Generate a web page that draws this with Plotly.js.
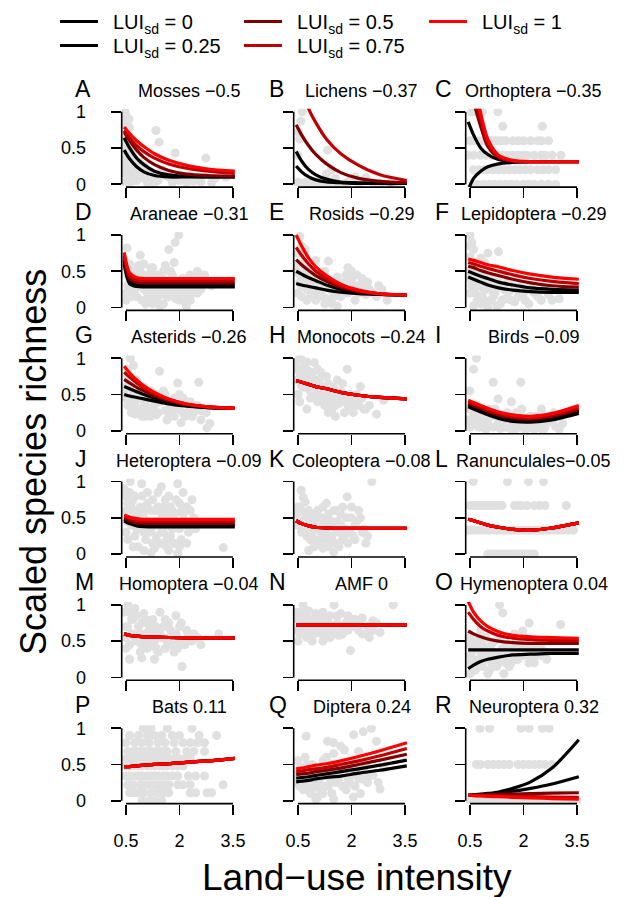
<!DOCTYPE html>
<html><head><meta charset="utf-8">
<script src="https://cdn.plot.ly/plotly-3.0.1.min.js"></script>
<style>html,body{margin:0;padding:0;background:#fff}#chart{width:624px;height:897px}</style>
</head><body><div id="chart"></div>
<script>
// ---------- data ----------
const fitX = [0.45, 0.6, 0.8, 1.0, 1.3, 1.7, 2.2, 2.8, 3.55];
const sdLevels = ['0', '0.25', '0.5', '0.75', '1'];

const groupNames = ['Mosses','Lichens','Orthoptera','Araneae','Rosids','Lepidoptera','Asterids','Monocots','Birds',
  'Heteroptera','Coleoptera','Ranunculales','Homoptera','AMF','Hymenoptera','Bats','Diptera','Neuroptera'];
const groupEffects = [' \u22120.5',' \u22120.37',' \u22120.35',' \u22120.31',' \u22120.29',' \u22120.29',' \u22120.26',' \u22120.24',' \u22120.09',
  ' \u22120.09',' \u22120.08','\u22120.05',' \u22120.04',' 0',' 0.04',' 0.11',' 0.24',' 0.32'];
const panelLetters = ['A','B','C','D','E','F','G','H','I','J','K','L','M','N','O','P','Q','R'];

// Mosses
const mossesX = [0.47,0.5,0.52,0.48,0.55,0.5,0.6,0.47,0.53,0.58,0.5,0.62,0.7,0.48,0.55,0.65,0.75,0.85,0.5,0.6,0.9,1.0,1.1,1.2,1.34,1.43,1.88,2.74,1.5,1.7,2.0,2.3,2.6,3.0,3.3,1.3,0.8,0.95,1.15,2.2,
  0.45,0.48,0.5,0.52,0.55,0.58,0.6,0.62,0.65,0.68,0.7,0.72,0.75,0.8,0.85,0.9,1.0,1.05,1.1,1.25,1.4,1.6,1.8,2.1,2.4,2.9,0.45,0.47,0.5,0.55];
const mossesY = [1.0,0.95,0.88,0.8,0.7,0.62,0.55,0.5,0.42,0.35,0.3,0.25,0.2,0.15,0.12,0.08,0.05,0.1,0.03,0.01,0.15,0.08,0.12,0.05,0.74,0.58,0.43,0.36,0.2,0.1,0.05,0.12,0.03,0.08,0.1,0.02,0.3,0.22,0.18,0.02,
  0.9,0.75,0.65,0.55,0.45,0.9,0.78,0.4,0.3,0.6,0.45,0.35,0.15,0.05,0.2,0.3,0.25,0.15,0.02,0.1,0.05,0.12,0.02,0.08,0.04,0.02,0.25,0.4,0.85,0.2];
const mossesFit = [
  [0.47,0.35,0.24,0.17,0.12,0.10,0.10,0.10,0.10],
  [0.64,0.50,0.36,0.27,0.18,0.13,0.11,0.10,0.10],
  [0.72,0.60,0.47,0.37,0.27,0.19,0.14,0.12,0.11],
  [0.74,0.64,0.53,0.45,0.36,0.28,0.22,0.18,0.15],
  [0.79,0.70,0.60,0.52,0.42,0.33,0.26,0.21,0.18]];

// Lichens
const lichensX = [0.62,0.58,0.52,0.55,0.5,1.33,1.45,1.3,1.55,0.7,0.9,1.1,1.6,1.9,2.1,2.4,2.6,2.8,3.1,0.5,0.6,0.8,1.0,1.2,1.4,1.8,2.2];
const lichensY = [1.0,0.87,0.72,0.62,0.4,0.47,0.2,0.14,0.08,0.02,0.04,0.03,0.01,0.03,0.1,0.09,0.02,0.01,0.02,0.03,0.01,0.01,0.0,0.02,0.0,0.0,0.01];
const lichensFit = [
  [0.25,0.17,0.10,0.06,0.03,0.02,0.01,0.01,0.01],
  [0.45,0.32,0.20,0.13,0.07,0.03,0.02,0.01,0.01],
  [0.82,0.68,0.53,0.41,0.28,0.16,0.08,0.04,0.02],
  [1.50,1.35,1.04,0.85,0.62,0.42,0.26,0.13,0.05],
  [null,null,null,null,null,null,null,null,null]];

// Orthoptera
const orthopteraX = [0.55,0.62,0.85,1.28, 1.42,2.53,
  0.5,0.6,0.75,0.9,1.0,1.1,1.2,1.3,1.4,1.5,1.7,1.85,2.0,2.2,2.4,2.5,2.7,
  0.45,0.6,0.8,0.95,1.1,1.25,1.4,1.55,1.7,1.85,2.0,2.1,2.3,2.5,2.6,2.8,3.05,
  0.6,0.75,0.9,1.0,1.15,1.3,1.45,1.6,1.75,1.9,2.05,2.2,2.4,2.55,2.7,2.9,
  0.6,0.75,0.9,1.05,1.2,1.35,1.5,1.65,1.8,2.0,2.15,2.3,2.5,2.7,2.9];
const orthopteraY = [1,1,1,1, 0.8,0.8,
  0.6,0.6,0.6,0.6,0.6,0.6,0.6,0.6,0.6,0.6,0.6,0.6,0.6,0.6,0.6,0.6,0.6,
  0.4,0.4,0.4,0.4,0.4,0.4,0.4,0.4,0.4,0.4,0.4,0.4,0.4,0.4,0.4,0.4,0.4,
  0.2,0.2,0.2,0.2,0.2,0.2,0.2,0.2,0.2,0.2,0.2,0.2,0.2,0.2,0.2,0.2,
  0,0,0,0,0,0,0,0,0,0,0,0,0,0,0];
const orthopteraFit = [
  [-0.08,0.08,0.18,0.24,0.28,0.30,0.31,0.31,0.31],
  [0.86,0.68,0.50,0.41,0.34,0.315,0.31,0.31,0.31],
  [1.60,1.15,0.80,0.52,0.37,0.32,0.31,0.31,0.31],
  [1.90,1.30,0.88,0.56,0.38,0.32,0.31,0.31,0.31],
  [2.20,1.50,0.98,0.62,0.40,0.33,0.31,0.31,0.31]];

// Araneae
const araneaeX = [0.5,0.55,0.6,0.7,0.8,0.9,1.0,1.1,1.2,1.3,1.4,1.5,1.6,1.7,1.8,1.9,2.0,2.1,2.2,2.3,2.4,2.5,2.6,2.8,0.5,0.65,0.75,0.85,0.95,1.05,1.15,1.25,1.35,1.45,1.55,1.65,1.75,1.85,1.98,1.88,1.7,0.53,0.9,2.3,2.5,1.0,1.2,1.6,2.0,2.2,
  0.45,0.55,0.6,0.65,0.7,0.75,0.8,0.85,0.9,1.0,1.05,1.1,1.15,1.2,1.3,1.35,1.4,1.5,1.55,1.6,1.7,1.75,1.8,1.9,2.0,2.1,2.2,2.35,2.45,2.6,2.7,2.9,0.5,1.25,1.45,2.15];
const araneaeY = [0.55,0.45,0.35,0.5,0.4,0.3,0.25,0.45,0.2,0.35,0.15,0.4,0.25,0.3,0.2,0.12,0.35,0.25,0.18,0.45,0.3,0.2,0.4,0.35,0.2,0.15,0.25,0.58,0.1,0.05,0.15,0.55,0.1,0.22,0.05,0.15,0.5,0.62,1.0,0.9,0.8,0.82,0.72,0.1,0.5,0.6,0.42,0.58,0.1,0.02,
  0.65,0.3,0.6,0.45,0.2,0.4,0.15,0.3,0.5,0.4,0.3,0.2,0.45,0.55,0.25,0.45,0.35,0.2,0.5,0.35,0.15,0.35,0.45,0.3,0.2,0.4,0.3,0.2,0.4,0.25,0.45,0.3,0.1,0.05,0.02,0.08];
const araneaeFit = [
  [0.60,0.33,0.29,0.285,0.285,0.285,0.285,0.285,0.285],
  [0.64,0.36,0.32,0.31,0.31,0.31,0.31,0.31,0.31],
  [0.68,0.40,0.35,0.34,0.34,0.34,0.34,0.34,0.34],
  [0.72,0.44,0.38,0.37,0.37,0.37,0.37,0.37,0.37],
  [0.76,0.48,0.41,0.40,0.40,0.40,0.40,0.40,0.40]];

// Rosids
const rosidsX = [0.55,0.6,0.5,0.7,0.65,0.8,0.9,1.0,1.1,1.2,1.35,1.5,1.6,1.8,1.95,2.05,2.0,2.2,2.3,2.5,2.76,3.0,0.5,0.6,0.75,0.85,1.0,1.15,1.3,1.45,1.7,1.9,2.1,2.4,0.55,0.9,1.25,1.6,
  0.45,0.5,0.55,0.6,0.65,0.7,0.75,0.8,0.85,0.9,0.95,1.05,1.1,1.2,1.25,1.4,1.5,1.55,1.65,1.75,1.85,1.9,2.0,2.05,2.15,2.2,2.35,2.45,2.6,2.7,2.85,0.7,1.0];
const rosidsY = [0.98,0.85,0.75,0.7,0.6,0.55,0.5,0.45,0.4,0.35,0.64,0.3,0.42,0.35,0.48,0.45,0.38,0.3,0.4,0.25,0.3,0.1,0.2,0.3,0.25,0.15,0.1,0.2,0.12,0.05,0.15,0.2,0.1,0.18,0.45,0.3,0.05,0.02,
  0.5,0.6,0.35,0.15,0.4,0.5,0.1,0.35,0.45,0.2,0.3,0.25,0.15,0.3,0.5,0.25,0.15,0.35,0.2,0.25,0.45,0.55,0.5,0.3,0.45,0.2,0.3,0.35,0.2,0.15,0.25,0.8,0.65];
const rosidsFit = [
  [0.33,0.31,0.29,0.27,0.24,0.21,0.19,0.18,0.17],
  [0.50,0.46,0.41,0.37,0.31,0.25,0.21,0.18,0.17],
  [0.66,0.59,0.51,0.44,0.36,0.28,0.22,0.19,0.17],
  [0.83,0.72,0.60,0.50,0.40,0.30,0.23,0.19,0.17],
  [1.00,0.85,0.68,0.56,0.44,0.32,0.24,0.19,0.17]];

// Lepidoptera
const lepidopteraX = [0.5,0.55,0.6,0.5,0.65,0.7,0.8,1.0,1.3,0.55,0.6,0.75,0.9,1.05,1.2,1.4,1.6,1.8,2.0,2.2,2.4,2.7,3.0,0.5,0.7,0.85,1.1,1.35,1.5,1.75,1.95,2.15,0.6,0.8,1.0,1.25,
  0.45,0.5,0.55,0.6,0.65,0.7,0.75,0.8,0.85,0.9,0.95,1.0,1.1,1.15,1.2,1.3,1.4,1.45,1.55,1.65,1.7,1.85,1.9,2.05,2.1,2.3,2.5,2.6,2.8,0.5,0.55,0.9];
const lepidopteraY = [1.0,0.9,0.8,0.7,0.62,0.55,0.68,0.75,0.77,0.45,0.35,0.3,0.25,0.35,0.3,0.28,0.22,0.25,0.2,0.3,0.15,0.18,0.12,0.2,0.1,0.15,0.1,0.05,0.12,0.08,0.15,0.05,0.02,0.05,0.0,0.02,
  0.5,0.4,0.3,0.55,0.2,0.4,0.15,0.5,0.35,0.1,0.45,0.25,0.4,0.15,0.2,0.35,0.1,0.25,0.35,0.1,0.3,0.15,0.3,0.1,0.25,0.2,0.1,0.25,0.1,0.85,0.6,0.62];
const lepidopteraFit = [
  [0.42,0.39,0.35,0.31,0.27,0.24,0.22,0.21,0.21],
  [0.50,0.47,0.43,0.40,0.35,0.31,0.27,0.25,0.24],
  [0.57,0.55,0.51,0.48,0.44,0.39,0.34,0.30,0.28],
  [0.62,0.60,0.57,0.54,0.50,0.45,0.40,0.36,0.33],
  [0.67,0.65,0.62,0.59,0.56,0.51,0.46,0.42,0.39]];

// Asterids
const asteridsX = [0.62,0.71,0.55,0.5,0.8,1.44,1.95,2.54,0.6,0.7,0.85,1.0,1.1,1.2,1.3,1.5,1.6,1.7,1.8,2.0,2.1,2.2,2.3,2.45,2.6,0.76,1.05,1.35,1.65,2.04,2.77,0.9,1.25,1.55,1.85,2.35,2.7,
  0.45,0.5,0.55,0.6,0.65,0.7,0.75,0.8,0.9,0.95,1.0,1.05,1.15,1.2,1.25,1.35,1.4,1.45,1.6,1.7,1.75,1.85,1.9,2.0,2.1,2.15,2.3,2.4,2.5,2.6,2.75,2.85,0.55];
const asteridsY = [1.0,0.9,0.75,0.6,0.7,0.82,0.66,0.67,0.45,0.35,0.5,0.4,0.3,0.55,0.35,0.45,0.28,0.4,0.32,0.5,0.25,0.38,0.3,0.35,0.28,0.23,0.2,0.22,0.15,0.11,0.04,0.3,0.45,0.55,0.2,0.2,0.3,
  0.55,0.45,0.35,0.6,0.25,0.5,0.4,0.3,0.55,0.2,0.6,0.35,0.45,0.2,0.3,0.5,0.25,0.4,0.5,0.25,0.35,0.45,0.3,0.35,0.45,0.2,0.4,0.25,0.35,0.15,0.25,0.1,0.85];
const asteridsFit = [
  [0.50,0.48,0.46,0.44,0.41,0.37,0.34,0.32,0.31],
  [0.61,0.58,0.54,0.50,0.45,0.40,0.35,0.32,0.31],
  [0.71,0.66,0.60,0.55,0.48,0.42,0.36,0.33,0.31],
  [0.81,0.74,0.66,0.59,0.51,0.43,0.37,0.33,0.31],
  [0.89,0.80,0.70,0.62,0.53,0.44,0.37,0.33,0.31]];

// Monocots
const monocotsX = [0.55,0.6,0.7,0.5,0.8,0.96,0.65,0.75,0.9,1.0,1.1,1.2,1.3,1.4,1.5,1.6,1.7,1.88,1.95,2.1,2.25,2.4,2.7,2.9,0.5,0.6,0.85,1.05,1.25,1.45,1.65,1.8,2.0,2.2,1.15,1.35,1.55,
  0.45,0.5,0.55,0.6,0.65,0.7,0.75,0.8,0.85,0.9,0.95,1.0,1.05,1.1,1.15,1.2,1.25,1.3,1.35,1.4,1.45,1.5,1.55,1.6,1.7,1.75,1.8,1.9,2.0,2.05,2.15,2.3,2.35,2.5,0.55,0.75];
const monocotsY = [1.0,0.98,0.9,0.85,0.82,0.94,0.75,0.6,0.7,0.55,0.65,0.5,0.75,0.6,0.45,0.7,0.55,0.85,0.5,0.4,0.61,0.3,0.23,0.42,0.5,0.62,0.45,0.4,0.35,0.3,0.38,0.25,0.3,0.35,0.8,0.25,0.2,
  0.95,0.7,0.8,0.85,0.6,0.75,0.95,0.65,0.55,0.8,0.45,0.7,0.85,0.5,0.6,0.75,0.45,0.55,0.65,0.4,0.5,0.6,0.35,0.5,0.4,0.65,0.45,0.35,0.45,0.25,0.5,0.45,0.3,0.35,0.4,0.3];
const monocotsCurve = [0.69,0.67,0.64,0.61,0.58,0.53,0.49,0.46,0.44];
const monocotsFit = [monocotsCurve, monocotsCurve, monocotsCurve, monocotsCurve, monocotsCurve];

// Birds
const birdsX = [0.68,0.6,0.5,1.15,1.92,1.29,1.66,2.5,3.2,0.5,0.6,0.7,0.8,0.9,1.0,1.1,1.2,1.3,1.4,1.5,1.6,1.7,1.8,1.9,2.0,2.1,2.2,2.3,2.4,2.6,2.8,3.0,0.55,0.75,0.95,1.35,1.75,2.15,2.55,2.9,
  0.45,0.5,0.6,0.65,0.75,0.85,0.95,1.05,1.15,1.25,1.45,1.55,1.65,1.85,1.95,2.05,2.25,2.35,2.45,2.7,2.85,3.1];
const birdsY = [1.0,0.85,0.55,0.67,0.67,0.44,0.4,0.3,0.25,0.3,0.2,0.35,0.15,0.25,0.1,0.2,0.3,0.12,0.22,0.05,0.18,0.1,0.25,0.05,0.15,0.08,0.2,0.02,0.1,0.05,0.12,0.02,0.1,0.05,0.02,0.03,0.01,0.04,0.0,0.06,
  0.15,0.05,0.1,0.25,0.2,0.05,0.15,0.3,0.05,0.2,0.12,0.25,0.02,0.15,0.3,0.02,0.1,0.2,0.05,0.15,0.25,0.1];
const birdsFit = [
  [0.33,0.30,0.26,0.22,0.17,0.13,0.12,0.15,0.24],
  [0.36,0.33,0.29,0.25,0.20,0.16,0.14,0.18,0.27],
  [0.38,0.35,0.31,0.27,0.22,0.18,0.16,0.20,0.29],
  [0.40,0.37,0.33,0.29,0.24,0.20,0.18,0.22,0.32],
  [0.42,0.39,0.35,0.31,0.26,0.22,0.20,0.24,0.35]];

// Heteroptera
const heteropteraX = [0.62,0.94,1.49,1.95,0.5,0.55,0.6,0.7,0.8,0.9,1.0,1.1,1.2,1.3,1.4,1.5,1.6,1.7,1.8,1.9,2.0,2.1,2.2,2.3,2.4,0.5,0.65,0.75,0.85,1.05,1.15,1.25,1.35,1.55,1.65,1.75,1.85,2.05,2.25,3.23,1.95,0.7,1.0,1.3,1.6,2.0,
  0.45,0.5,0.55,0.6,0.65,0.7,0.75,0.8,0.85,0.9,0.95,1.0,1.05,1.1,1.15,1.2,1.25,1.3,1.35,1.4,1.45,1.5,1.55,1.6,1.65,1.7,1.75,1.8,1.85,1.9,2.0,2.05,2.1,2.15,2.2,2.3,2.35,2.45,0.55,0.85,1.2,1.45,1.7,2.2];
const heteropteraY = [1.0,0.97,0.93,0.97,0.8,0.7,0.6,0.75,0.55,0.65,0.5,0.7,0.6,0.45,0.65,0.55,0.75,0.5,0.6,0.45,0.7,0.55,0.4,0.6,0.5,0.3,0.4,0.25,0.35,0.2,0.3,0.15,0.25,0.3,0.2,0.25,0.15,0.2,0.3,0.09,0.01,0.1,0.05,0.08,0.12,0.1,
  0.9,0.6,0.45,0.85,0.65,0.45,0.8,0.35,0.6,0.45,0.8,0.3,0.6,0.85,0.45,0.35,0.75,0.6,0.4,0.85,0.45,0.3,0.65,0.55,0.4,0.8,0.65,0.35,0.55,0.75,0.35,0.6,0.85,0.45,0.65,0.4,0.75,0.35,0.2,0.1,0.02,0.15,0.05,0.15];
const heteropteraFit = [
  [0.46,0.42,0.39,0.38,0.375,0.375,0.375,0.375,0.375],
  [0.48,0.44,0.41,0.40,0.40,0.40,0.40,0.40,0.40],
  [0.50,0.46,0.43,0.425,0.425,0.425,0.425,0.425,0.425],
  [0.52,0.49,0.46,0.455,0.45,0.45,0.45,0.45,0.45],
  [0.54,0.51,0.49,0.48,0.48,0.48,0.48,0.48,0.48]];

// Coleoptera
const coleopteraX = [0.59,0.65,0.55,0.7,0.8,0.9,1.0,1.1,1.2,1.3,1.4,1.5,1.6,1.7,1.8,1.88,2.0,2.1,2.2,2.3,2.57,0.5,0.6,0.75,0.85,0.95,1.05,1.15,1.25,1.35,1.45,1.55,1.65,1.75,1.9,2.05,2.4,1.5,0.8,1.2,
  0.45,0.5,0.55,0.6,0.65,0.7,0.75,0.8,0.85,0.9,0.95,1.0,1.05,1.1,1.15,1.25,1.3,1.35,1.4,1.45,1.55,1.6,1.65,1.7,1.75,1.8,1.85,1.95,2.0,2.1,2.15,2.25,2.35,2.45,1.3,0.95];
const coleopteraY = [0.88,0.78,0.65,0.72,0.6,0.5,0.55,0.45,0.65,0.5,0.4,0.6,0.45,0.55,0.35,0.79,0.5,0.4,0.6,0.3,1.0,0.4,0.3,0.25,0.2,0.35,0.15,0.3,0.2,0.1,0.25,0.15,0.3,0.2,0.15,0.25,0.15,0.03,0.05,0.08,
  0.55,0.65,0.45,0.6,0.35,0.5,0.4,0.3,0.55,0.25,0.45,0.35,0.6,0.2,0.5,0.4,0.3,0.55,0.2,0.45,0.35,0.6,0.1,0.4,0.65,0.25,0.5,0.3,0.65,0.2,0.45,0.5,0.35,0.25,0.7,0.1];
const coleopteraCurve = [0.46,0.42,0.39,0.37,0.36,0.355,0.355,0.355,0.355];
const coleopteraFit = [coleopteraCurve, coleopteraCurve, coleopteraCurve, coleopteraCurve, coleopteraCurve];

// Ranunculales
const ranunculalesX = [0.59,1.55,2.14,2.56,
  0.5,0.6,0.7,0.8,0.9,1.0,1.1,1.2,1.3,1.4,1.75,1.85,1.95,2.1,2.3,2.45,2.6,3.2,
  0.45,0.55,0.65,0.75,0.85,0.95,1.05,1.15,1.25,1.35,1.45,1.55,1.65,1.75,1.85,1.95,2.05,2.15,2.25,2.35,2.45,2.55,2.65,2.75,2.85,2.95,3.1,3.25,3.4,
  1.0,1.1,1.2,1.3,1.4,1.5,1.6,1.7,1.8,1.9,2.0,2.1,2.2,2.3];
const ranunculalesY = [1,1,1,1,
  0.67,0.67,0.67,0.67,0.67,0.67,0.67,0.67,0.67,0.67,0.67,0.67,0.67,0.67,0.67,0.67,0.67,0.67,
  0.33,0.33,0.33,0.33,0.33,0.33,0.33,0.33,0.33,0.33,0.33,0.33,0.33,0.33,0.33,0.33,0.33,0.33,0.33,0.33,0.33,0.33,0.33,0.33,0.33,0.33,0.33,0.33,0.33,
  0,0,0,0,0,0,0,0,0,0,0,0,0,0];
const ranunculalesCurve = [0.48,0.46,0.43,0.40,0.37,0.34,0.33,0.36,0.43];
const ranunculalesFit = [ranunculalesCurve, ranunculalesCurve, ranunculalesCurve, ranunculalesCurve, ranunculalesCurve];

// Homoptera
const homopteraX = [0.55,0.6,0.7,0.8,1.0,1.1,1.2,1.3,1.45,1.6,1.7,1.9,2.0,2.2,2.4,0.5,0.65,0.75,0.85,0.95,1.05,1.15,1.25,1.35,1.5,1.65,1.8,1.95,2.1,2.3,2.6,3.1,0.94,2.07,0.5,0.9,
  0.45,0.5,0.55,0.6,0.65,0.7,0.75,0.8,0.85,0.9,0.95,1.0,1.05,1.1,1.15,1.2,1.25,1.3,1.35,1.4,1.45,1.55,1.6,1.7,1.75,1.85,1.9,2.0,2.05,2.15,2.25,2.35,2.5,0.6,1.3];
const homopteraY = [1.0,0.9,0.8,0.85,0.88,0.75,0.7,0.65,0.9,0.8,0.75,0.85,0.7,0.65,0.6,0.7,0.6,0.55,0.5,0.45,0.6,0.5,0.45,0.4,0.55,0.5,0.45,0.4,0.5,0.55,0.45,0.6,0.27,0.15,0.4,0.35,
  0.9,0.55,0.7,0.45,0.8,0.6,0.95,0.5,0.7,0.6,0.75,0.5,0.8,0.4,0.65,0.55,0.8,0.5,0.7,0.35,0.6,0.7,0.4,0.55,0.65,0.35,0.6,0.5,0.75,0.45,0.6,0.5,0.55,0.25,0.25];
const homopteraCurve = [0.60,0.58,0.57,0.56,0.555,0.55,0.545,0.545,0.545];
const homopteraFit = [homopteraCurve, homopteraCurve, homopteraCurve, homopteraCurve, homopteraCurve];

// AMF
const amfX = [0.64,0.8,1.0,1.2,1.51,1.7,1.9,2.1,2.3,2.6,3.17,0.5,0.6,0.7,0.85,0.95,1.1,1.3,1.45,1.6,1.8,2.0,2.2,2.4,0.55,0.75,0.9,1.15,1.4,1.65,1.97,2.5,2.8,
  0.45,0.5,0.55,0.6,0.65,0.7,0.75,0.8,0.85,0.9,0.95,1.0,1.05,1.1,1.15,1.2,1.25,1.3,1.35,1.4,1.5,1.55,1.6,1.7,1.75,1.85,1.9,2.0,2.1,2.2,2.3,2.45,2.6,2.7,0.5,1.2];
const amfY = [1.0,0.92,0.88,0.9,1.0,0.88,0.85,0.8,0.82,0.78,1.0,0.8,0.7,0.75,0.65,0.8,0.7,0.72,0.65,0.75,0.68,0.7,0.65,0.6,0.6,0.55,0.5,0.6,0.55,0.58,0.37,0.55,0.62,
  0.9,0.65,0.85,0.9,0.6,0.85,0.7,0.65,0.8,0.7,0.6,0.75,0.65,0.85,0.75,0.65,0.8,0.6,0.75,0.85,0.7,0.6,0.85,0.7,0.6,0.75,0.65,0.8,0.7,0.75,0.6,0.7,0.65,0.75,0.5,0.5];
const amfCurve = [0.725,0.725,0.725,0.725,0.725,0.725,0.725,0.725,0.725];
const amfFit = [amfCurve, amfCurve, amfCurve, amfCurve, amfCurve];

// Hymenoptera
const hymenopteraX = [1.33,1.42,2.16,1.98,3.04,0.5,0.6,0.7,0.8,0.9,1.0,1.1,1.2,1.3,1.5,1.6,1.7,1.8,1.9,2.0,2.1,2.2,2.4,2.6,0.55,0.65,0.75,0.85,1.05,1.25,1.45,1.65,1.85,2.3,2.5,0.5,1.0,
  0.45,0.5,0.55,0.6,0.65,0.7,0.75,0.8,0.85,0.9,0.95,1.0,1.1,1.15,1.2,1.3,1.35,1.4,1.45,1.55,1.6,1.7,1.75,1.8,1.9,2.0,2.05,2.15,2.25,2.35,2.5,2.65,0.5,0.8];
const hymenopteraY = [1.0,0.89,0.75,0.64,0.73,0.55,0.45,0.5,0.35,0.4,0.3,0.45,0.25,0.35,0.2,0.3,0.45,0.5,0.35,0.55,0.4,0.3,0.45,0.35,0.2,0.1,0.25,0.15,0.1,0.15,0.05,0.2,0.25,0.2,0.3,0.3,0.05,
  0.45,0.2,0.35,0.25,0.4,0.15,0.5,0.2,0.45,0.25,0.55,0.4,0.2,0.35,0.5,0.2,0.55,0.4,0.3,0.45,0.15,0.3,0.6,0.25,0.45,0.3,0.45,0.2,0.4,0.3,0.45,0.25,0.05,0.65];
const hymenopteraFit = [
  [0.12,0.17,0.22,0.25,0.28,0.31,0.32,0.33,0.33],
  [0.38,0.38,0.38,0.38,0.38,0.38,0.38,0.38,0.38],
  [0.64,0.60,0.56,0.53,0.50,0.48,0.47,0.47,0.47],
  [0.90,0.80,0.70,0.64,0.58,0.54,0.52,0.51,0.51],
  [1.05,0.90,0.78,0.70,0.63,0.58,0.56,0.55,0.54]];

// Bats
const batsX = [0.98,1.2,1.66,2.35,
  0.6,0.85,1.1,1.3,1.5,1.8,2.0,2.55,3.04,
  0.5,0.75,0.95,1.15,1.4,1.6,1.85,2.1,2.3,2.5,2.7,
  0.55,0.7,0.8,0.9,1.05,1.15,1.25,1.35,1.45,1.55,1.65,1.9,2.2,2.4,2.7,
  0.5,0.65,0.8,0.9,1.0,1.1,1.2,1.35,1.5,1.65,1.75,1.9,2.0,2.15,2.3,
  0.5,0.6,0.7,0.85,0.95,1.1,1.2,1.3,1.45,1.55,1.65,1.8,1.95,2.1,
  0.5,0.6,0.75,0.85,0.95,1.1,1.2,1.3,1.4,1.55,1.65,1.8,1.95,2.25,2.45,2.7,
  0.55,0.6,0.7,0.9,1.0,1.15,1.3,1.4,1.5,1.6,1.7,1.95,2.1,2.3,3.22,
  0.6,0.7,0.8,0.9,1.0,1.2,1.4,1.55,1.7,2.3,2.45,2.77,2.9,
  0.95,1.15,1.3,1.5];
const batsY = [1,1,1,1,
  0.9,0.9,0.9,0.9,0.9,0.9,0.9,0.9,0.9,
  0.8,0.8,0.8,0.8,0.8,0.8,0.8,0.8,0.8,0.8,0.8,
  0.68,0.68,0.68,0.68,0.68,0.68,0.68,0.68,0.68,0.68,0.68,0.68,0.68,0.68,0.68,
  0.58,0.58,0.58,0.58,0.58,0.58,0.58,0.58,0.58,0.58,0.58,0.58,0.58,0.58,0.58,
  0.48,0.48,0.48,0.48,0.48,0.48,0.48,0.48,0.48,0.48,0.48,0.48,0.48,0.48,
  0.34,0.34,0.34,0.34,0.34,0.34,0.34,0.34,0.34,0.34,0.34,0.34,0.34,0.34,0.34,0.34,
  0.22,0.22,0.22,0.22,0.22,0.22,0.22,0.22,0.22,0.22,0.22,0.22,0.22,0.22,0.22,
  0.11,0.11,0.11,0.11,0.11,0.11,0.11,0.11,0.11,0.11,0.11,0.11,0.11,
  0,0,0,0];
const batsCurve = [0.47,0.47,0.48,0.49,0.50,0.51,0.53,0.55,0.585];
const batsFit = [batsCurve, batsCurve, batsCurve, batsCurve, batsCurve];

// Diptera
const dipteraX = [0.73,1.33,1.5,2.06,2.33,2.56,2.7,2.8,0.5,0.6,0.7,0.8,0.9,1.0,1.1,1.2,1.3,1.4,1.5,1.6,1.7,1.8,1.9,2.0,2.1,2.2,2.3,2.4,2.5,0.55,0.65,0.75,0.85,0.95,1.05,1.15,1.25,1.45,1.65,1.85,2.05,2.25,1.0,1.5,
  0.45,0.5,0.55,0.6,0.65,0.7,0.75,0.8,0.85,0.9,0.95,1.0,1.05,1.1,1.15,1.2,1.25,1.3,1.35,1.4,1.45,1.55,1.6,1.65,1.75,1.8,1.9,1.95,2.0,2.1,2.15,2.2,2.35,2.45,2.6,2.75,2.9,1.7,2.2];
const dipteraY = [0.89,0.82,0.8,0.91,0.95,1.0,0.82,0.16,0.55,0.45,0.6,0.35,0.5,0.3,0.45,0.55,0.6,0.4,0.65,0.35,0.5,0.7,0.3,0.45,0.55,0.4,0.3,0.5,0.35,0.2,0.15,0.25,0.1,0.2,0.05,0.15,0.2,0.1,0.25,0.15,0.05,0.1,0.02,0.02,
  0.35,0.25,0.45,0.3,0.4,0.2,0.5,0.25,0.4,0.15,0.35,0.45,0.25,0.3,0.4,0.1,0.35,0.45,0.2,0.3,0.5,0.25,0.45,0.35,0.2,0.4,0.5,0.25,0.35,0.2,0.45,0.3,0.4,0.25,0.35,0.25,0.45,0.75,0.68];
const dipteraFit = [
  [0.26,0.27,0.28,0.30,0.32,0.34,0.38,0.42,0.48],
  [0.31,0.32,0.33,0.35,0.37,0.40,0.44,0.49,0.56],
  [0.36,0.37,0.38,0.40,0.42,0.45,0.50,0.56,0.64],
  [0.40,0.41,0.43,0.44,0.46,0.50,0.55,0.62,0.72],
  [0.44,0.45,0.47,0.49,0.51,0.55,0.61,0.69,0.80]];

// Neuroptera
const neuropteraX = [0.78,1.05,1.93,2.16,2.53,2.72,
  0.68,0.8,1.0,1.15,1.3,1.45,1.6,1.85,2.0,2.15,2.3,2.45,2.6,2.8,
  0.5,0.7,0.9,1.1,1.3,1.5,1.7,1.9,2.1,2.3,2.5,2.7,2.9,3.1,3.3,3.5];
const neuropteraY = [1,1,1,1,1,1,
  0.5,0.5,0.5,0.5,0.5,0.5,0.5,0.5,0.5,0.5,0.5,0.5,0.5,0.5,
  0,0,0,0,0,0,0,0,0,0,0,0,0,0,0,0];
const neuropteraFit = [
  [0.075,0.08,0.09,0.10,0.12,0.17,0.26,0.45,0.84],
  [0.075,0.08,0.085,0.09,0.10,0.13,0.17,0.23,0.33],
  [0.075,0.077,0.08,0.083,0.087,0.092,0.098,0.104,0.11],
  [0.075,0.072,0.07,0.067,0.064,0.06,0.055,0.05,0.045],
  [0.075,0.07,0.065,0.06,0.055,0.047,0.04,0.03,0.02]];

const pointsX = [mossesX,lichensX,orthopteraX,araneaeX,rosidsX,lepidopteraX,asteridsX,monocotsX,birdsX,
  heteropteraX,coleopteraX,ranunculalesX,homopteraX,amfX,hymenopteraX,batsX,dipteraX,neuropteraX];
const pointsY = [mossesY,lichensY,orthopteraY,araneaeY,rosidsY,lepidopteraY,asteridsY,monocotsY,birdsY,
  heteropteraY,coleopteraY,ranunculalesY,homopteraY,amfY,hymenopteraY,batsY,dipteraY,neuropteraY];
const fits = [mossesFit,lichensFit,orthopteraFit,araneaeFit,rosidsFit,lepidopteraFit,asteridsFit,monocotsFit,birdsFit,
  heteropteraFit,coleopteraFit,ranunculalesFit,homopteraFit,amfFit,hymenopteraFit,batsFit,dipteraFit,neuropteraFit];

const xTicks = [0.5, 2, 3.5];
const xTickText = ['0.5', '2', '3.5'];
const yTicks = [0, 0.5, 1];
const yTickText = ['0', '0.5', '1'];

// ---------- styling / layout ----------
const W = 624, H = 897;
const FONT = '"Liberation Sans", Arial, Helvetica, sans-serif';
const sdColors = ['#000000', '#050000', '#7f0000', '#c00000', '#ff0000'];
const legendIds = ['legend', 'legend2', 'legend3', 'legend4', 'legend5'];
const legendPos = [[55, 2], [55, 26], [239, 2], [239, 26], [424, 2]];
const colLeft = [121.7, 293.7, 465.7], plotW = 115.6;
const rowTop = [108.8, 232.1, 355.4, 478.7, 602.0, 725.3], plotH = 78.3;
const letterLeft = [73, 267, 433];
const titleCenter = [189.5, 361.5, 533.5];

const traces = [];
const shapes = [];
const annotations = [];
const layout = {
  width: W, height: H, margin: {l: 0, r: 0, t: 0, b: 0},
  paper_bgcolor: '#fff', plot_bgcolor: 'rgba(0,0,0,0)',
  font: {family: FONT, color: '#000', size: 18},
  showlegend: true
};
legendIds.forEach((id, k) => {
  layout[id] = {x: legendPos[k][0] / W, y: 1 - legendPos[k][1] / H, xanchor: 'left', yanchor: 'top',
    font: {size: 20, family: FONT, color: '#000'}, itemwidth: 38, bgcolor: 'rgba(0,0,0,0)'};
});

for (let i = 0; i < groupNames.length; i++) {
  const r = Math.floor(i / 3), c = i % 3, n = i + 1;
  const sfx = n === 1 ? '' : String(n);
  const xa = 'x' + sfx, ya = 'y' + sfx;
  layout['xaxis' + sfx] = {
    domain: [colLeft[c] / W, (colLeft[c] + plotW) / W], range: [0.38, 3.62], anchor: ya,
    tickvals: xTicks, ticktext: xTickText, ticks: 'outside', ticklen: 10, tickwidth: 1.6, tickcolor: '#000',
    showticklabels: r === 5, tickfont: {size: 18, family: FONT, color: '#000'}, ticklabelstandoff: 11,
    showgrid: false, zeroline: false, showline: false, fixedrange: true
  };
  layout['yaxis' + sfx] = {
    domain: [1 - (rowTop[r] + plotH) / H, 1 - rowTop[r] / H], range: [-0.04, 1.04], anchor: xa,
    tickvals: yTicks, ticktext: yTickText, ticks: 'outside', ticklen: 10, tickwidth: 1.6, tickcolor: '#000',
    showticklabels: c === 0, tickfont: {size: 18, family: FONT, color: '#000'}, ticklabelstandoff: 21,
    showgrid: false, zeroline: false, showline: false, fixedrange: true
  };
  traces.push({type: 'scatter', mode: 'markers', x: pointsX[i], y: pointsY[i], xaxis: xa, yaxis: ya,
    marker: {size: 9, color: '#e0e0e0'}, showlegend: false, hoverinfo: 'skip'});
  fits[i].forEach((f, k) => {
    traces.push({type: 'scatter', mode: 'lines', x: fitX, y: f, xaxis: xa, yaxis: ya,
      line: {color: sdColors[k], width: 3.2, shape: 'spline', smoothing: 0.8},
      name: '\u2002LUI<sub>sd</sub> = ' + sdLevels[k], legend: legendIds[k], showlegend: i === 0, hoverinfo: 'skip'});
  });
  shapes.push({type: 'line', xref: xa, yref: ya + ' domain', x0: xTicks[0], x1: xTicks[xTicks.length - 1], y0: 0, y1: 0,
    line: {color: '#000', width: 1.6}});
  shapes.push({type: 'line', xref: xa + ' domain', yref: ya, x0: 0, x1: 0, y0: yTicks[0], y1: yTicks[yTicks.length - 1],
    line: {color: '#000', width: 1.6}});
  const top = rowTop[r] + 2.9;
  annotations.push({xref: 'paper', yref: 'paper', x: letterLeft[c] / W, y: 1 - (top - 23) / H, xanchor: 'left', yanchor: 'middle',
    text: panelLetters[i], showarrow: false, font: {size: 23, family: FONT, color: '#000'}});
  annotations.push({xref: 'paper', yref: 'paper', x: titleCenter[c] / W, y: 1 - (top - 21) / H, xanchor: 'center', yanchor: 'middle',
    text: groupNames[i] + groupEffects[i], showarrow: false, font: {size: 18, family: FONT, color: '#000'}});
}
annotations.push({xref: 'paper', yref: 'paper', x: 33 / W, y: 1 - 462 / H, xanchor: 'center', yanchor: 'middle', textangle: -90,
  text: 'Scaled species richness', showarrow: false, font: {size: 36, family: FONT, color: '#000'}});
annotations.push({xref: 'paper', yref: 'paper', x: 357 / W, y: 1 - 877 / H, xanchor: 'center', yanchor: 'middle',
  text: 'Land\u2212use intensity', showarrow: false, font: {size: 37, family: FONT, color: '#000'}});
layout.shapes = shapes;
layout.annotations = annotations;

Plotly.newPlot('chart', traces, layout, {displayModeBar: false, staticPlot: true});
</script></body></html>
